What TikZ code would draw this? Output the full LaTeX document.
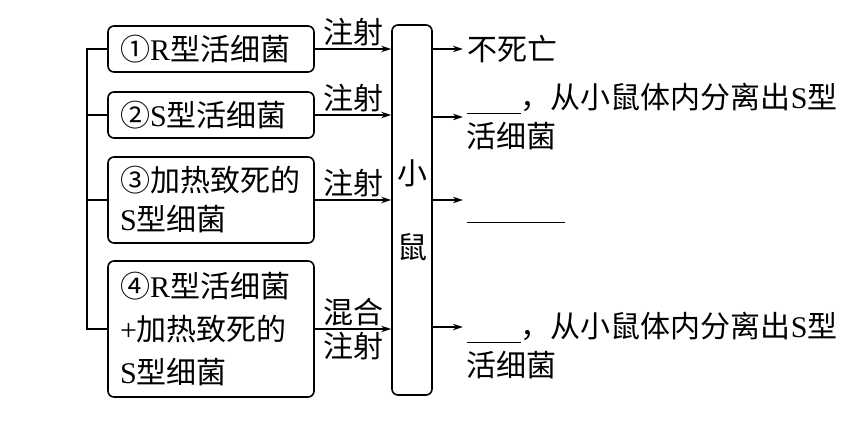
\documentclass[tikz,border=0pt]{standalone}
\usepackage{fontspec}
\setmainfont{Noto Sans CJK SC}
\newfontfamily\latinfont{Liberation Serif}
\usetikzlibrary{arrows.meta, positioning}
\newcommand{\lt}[1]{{\latinfont #1}}
\newcommand{\blankline}[1]{\rule[-2.5pt]{#1}{0.6pt}}

\begin{document}
\begin{tikzpicture}[x=0.5pt, y=-0.5pt, line width=0.8pt,
    font=\fontsize{15}{19.5}\selectfont,
    >={Stealth[length=5pt,width=3.2pt]},
    box/.style={draw, rounded corners=3pt, minimum width=103pt, text width=91pt,
      inner xsep=6pt, inner ysep=0pt, align=left},
    result/.style={anchor=west, inner sep=0pt, align=left},
    lbl/.style={inner sep=1pt}]
  \useasboundingbox (0,0) rectangle (865,422);

  % the four injections
  \node[box, minimum height=23pt] (b1) at (211,49) {①\lt{R}型活细菌};
  \node[box, minimum height=23pt] (b2) at (211,115) {②\lt{S}型活细菌};
  \node[box, minimum height=43pt] (b3) at (211,200) {③加热致死的\\\lt{S}型细菌};
  \node[box, minimum height=68pt] (b4) at (211,329) {④\lt{R}型活细菌\\[2pt]\lt{+}加热致死的\\[2pt]\lt{S}型细菌};

  \node[draw, rounded corners=3pt, minimum width=20pt, minimum height=185pt,
    inner sep=0pt, align=center] (mouse) at (412,210) {小\\[17.5pt]鼠};

  % bracket on the left
  \draw (b1.west) -- ++(-20,0) coordinate (bk) |- (b4.west);
  \draw (b2.west) -- (b2.west -| bk);
  \draw (b3.west) -- (b3.west -| bk);

  \draw[->] (b1.east) -- (b1.east -| mouse.west) node[lbl, midway, above] {注射};
  \draw[->] (b2.east) -- (b2.east -| mouse.west) node[lbl, midway, above] {注射};
  \draw[->] (b3.east) -- (b3.east -| mouse.west) node[lbl, midway, above] {注射};
  \draw[->] (b4.east) -- (b4.east -| mouse.west) node[lbl, midway, above] {混合}
    node[lbl, midway, below] {注射};

  % results
  \coordinate (e1) at (463,49);
  \coordinate (e2) at (463,117);
  \coordinate (e3) at (463,200);
  \coordinate (e4) at (463,327);
  \draw[->] (mouse.east |- e1) -- (e1);
  \draw[->] (mouse.east |- e2) -- (e2);
  \draw[->] (mouse.east |- e3) -- (e3);
  \draw[->] (mouse.east |- e4) -- (e4);

  \node[result, right=2pt of e1] (r1) {不死亡};
  \node[result] (r2) at (466,117) {\blankline{27pt}，从小鼠体内分离出\lt{S}型\\活细菌};
  \node[anchor=base west, inner sep=0pt] (r3) at (466,218) {\blankline{49pt}};
  \node[result] (r4) at (466,346) {\blankline{27pt}，从小鼠体内分离出\lt{S}型\\活细菌};
\end{tikzpicture}
\end{document}
